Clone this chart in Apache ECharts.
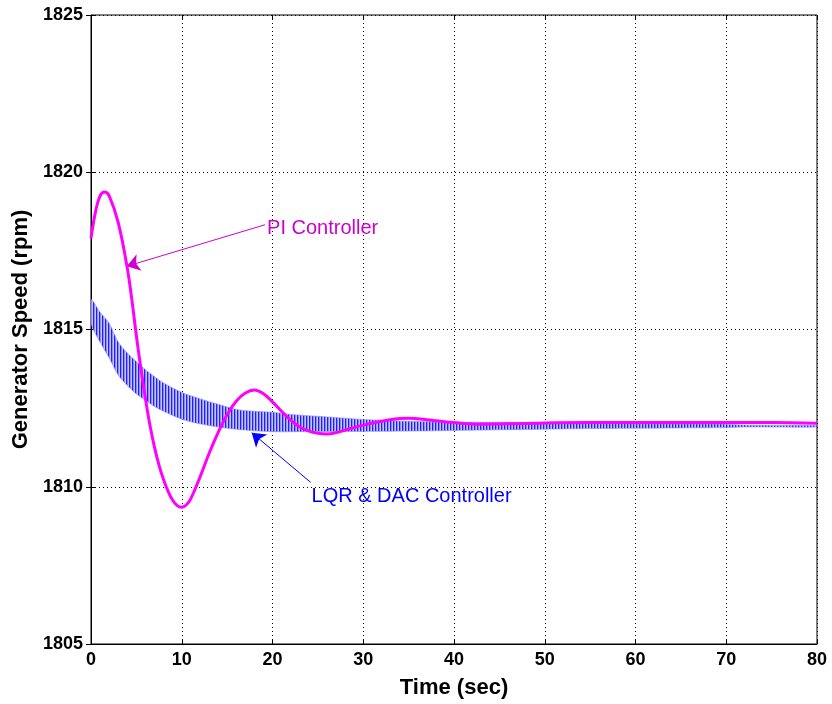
<!DOCTYPE html>
<html>
<head>
<meta charset="utf-8">
<title>Generator Speed</title>
<script src="https://cdn.jsdelivr.net/npm/echarts@6/dist/echarts.min.js"></script>
<style>
  html, body { margin: 0; padding: 0; background: #fff; }
  #chart { width: 832px; height: 704px; }
</style>
</head>
<body>
<div id="chart"></div>
<script>
// PI controller response (sec, rpm)
var piTime = [0, 0.5, 1, 1.5, 2, 3, 4, 4.5, 5, 5.5, 6, 6.5, 7, 7.5, 8, 8.5, 9, 9.5, 10, 10.5,
  11, 12, 13, 14, 15, 16, 17, 18, 19, 20, 21, 22, 23, 24, 25, 26, 27, 28, 30, 32,
  34, 35, 36, 38, 40, 43, 46, 50, 55, 60, 65, 70, 75, 80];
var piSpeed = [1817.9, 1818.75, 1819.25, 1819.37, 1819.25, 1818.4, 1816.95, 1815.95, 1814.8, 1813.75,
  1812.8, 1811.95, 1811.25, 1810.68, 1810.22, 1809.85, 1809.57, 1809.4, 1809.35, 1809.42,
  1809.62, 1810.3, 1811.05, 1811.72, 1812.3, 1812.72, 1812.98, 1813.08, 1812.96, 1812.7,
  1812.4, 1812.12, 1811.9, 1811.77, 1811.7, 1811.68, 1811.72, 1811.8, 1811.96, 1812.08,
  1812.17, 1812.18, 1812.16, 1812.1, 1812.04, 1811.99, 1812.0, 1812.03, 1812.04, 1812.04,
  1812.04, 1812.04, 1812.04, 1812.02];

// LQR & DAC controller: envelope of the fast oscillation (sec, rpm)
var lqrTime = [0, 1, 2, 3, 4, 5, 6, 7, 8, 10, 12, 14, 16, 18, 20, 22, 25, 28, 30, 35,
  40, 45, 50, 55, 60, 65, 70, 72, 75, 80];
var lqrUpper = [1815.95, 1815.55, 1815.2, 1814.6, 1814.25, 1813.98, 1813.72, 1813.5, 1813.3, 1813.0,
  1812.8, 1812.62, 1812.46, 1812.4, 1812.37, 1812.3, 1812.24, 1812.18, 1812.14, 1812.08,
  1812.05, 1812.05, 1812.04, 1812.02, 1812.0, 1812.0, 1811.99, 1811.96, 1811.95, 1811.95];
var lqrLower = [1815.2, 1814.6, 1814.1, 1813.55, 1813.22, 1812.95, 1812.75, 1812.55, 1812.4, 1812.15,
  1812.0, 1811.9, 1811.83, 1811.78, 1811.75, 1811.75, 1811.76, 1811.76, 1811.76, 1811.77,
  1811.79, 1811.81, 1811.83, 1811.85, 1811.86, 1811.87, 1811.88, 1811.9, 1811.9, 1811.9];

// annotations: text position, arrow from -> to
var piLabelAt = [19.4, 1818.22];
var piArrow = [[19.17, 1818.33], [3.93, 1817.01]];
var lqrLabelAt = [24.3, 1809.7];
var lqrArrow = [[24.2, 1810.14], [17.71, 1811.72]];

var font = 'Liberation Sans, Arial, Helvetica, sans-serif';

// vertical hatch pattern for the oscillating band
var hatch = document.createElement('canvas');
hatch.width = 3;
hatch.height = 2;
var hctx = hatch.getContext('2d');
hctx.fillStyle = '#2020ff';
hctx.fillRect(0, 0, 1, 2);
hctx.fillStyle = '#8c8cff';
hctx.fillRect(1, 0, 1, 2);
hctx.fillStyle = '#c6c6ff';
hctx.fillRect(2, 0, 1, 2);

var chart = echarts.init(document.getElementById('chart'));

function bandItem(params, api) {
  if (params.dataIndex !== 0) return null;
  var pts = [];
  for (var i = 0; i < lqrTime.length; i++) pts.push(api.coord([lqrTime[i], lqrUpper[i]]));
  for (var j = lqrTime.length - 1; j >= 0; j--) pts.push(api.coord([lqrTime[j], lqrLower[j]]));
  return {
    type: 'polygon',
    shape: { points: pts, smooth: 0.3 },
    style: { fill: { image: hatch, repeat: 'repeat' }, stroke: '#8a8aff', lineWidth: 0.6 }
  };
}

var option = {
  animation: false,
  backgroundColor: '#fff',
  grid: {
    left: 91, right: 15, top: 15, bottom: 59,
    show: true, borderColor: '#000', borderWidth: 1
  },
  xAxis: [{
    type: 'value', min: 0, max: 80, interval: 10,
    name: 'Time (sec)', nameLocation: 'middle', nameGap: 33,
    nameTextStyle: { fontFamily: font, fontWeight: 'bold', fontSize: 22, color: '#000' },
    axisLine: { show: true, lineStyle: { color: '#000', width: 1 } },
    axisTick: { inside: true, length: 5, lineStyle: { color: '#000' } },
    axisLabel: { fontFamily: font, fontWeight: 'bold', fontSize: 18, color: '#000', margin: 7 },
    splitLine: { show: true, lineStyle: { color: '#000', type: [1, 3], width: 1 } }
  }, {
    type: 'value', position: 'top', min: 0, max: 80, interval: 10,
    axisLine: { show: false },
    axisTick: { inside: true, length: 5, lineStyle: { color: '#000' } },
    axisLabel: { show: false },
    splitLine: { show: false }
  }],
  yAxis: [{
    type: 'value', min: 1805, max: 1825, interval: 5,
    name: 'Generator Speed (rpm)', nameLocation: 'middle', nameGap: 47,
    nameTextStyle: { fontFamily: font, fontWeight: 'bold', fontSize: 22, color: '#000' },
    axisLine: { show: true, lineStyle: { color: '#000', width: 1 } },
    axisTick: { inside: true, length: 5, lineStyle: { color: '#000' } },
    axisLabel: {
      fontFamily: font, fontWeight: 'bold', fontSize: 18, color: '#000', margin: 8,
      formatter: function (v) { return String(v); }
    },
    splitLine: { show: true, lineStyle: { color: '#000', type: [1, 3], width: 1 } }
  }, {
    type: 'value', position: 'right', min: 1805, max: 1825, interval: 5,
    axisLine: { show: false },
    axisTick: { inside: true, length: 5, lineStyle: { color: '#000' } },
    axisLabel: { show: false },
    splitLine: { show: false }
  }],
  series: [
    {
      name: 'LQR & DAC Controller',
      type: 'custom',
      z: 2,
      clip: true,
      renderItem: bandItem,
      data: lqrTime.map(function (t, i) { return [t, lqrLower[i], lqrUpper[i]]; })
    },
    {
      name: 'PI Controller',
      type: 'line',
      smooth: 0.4,
      symbol: 'none',
      z: 5,
      lineStyle: { color: '#ff00ff', width: 3 },
      data: piTime.map(function (t, i) { return [t, piSpeed[i]]; }),
      markLine: {
        silent: true,
        symbol: ['none', 'arrow'],
        symbolSize: 13,
        label: { show: false },
        data: [
          [{ coord: piArrow[0], lineStyle: { color: '#d000d0', width: 1, type: 'solid' } }, { coord: piArrow[1] }],
          [{ coord: lqrArrow[0], lineStyle: { color: '#0000ff', width: 1, type: 'solid' } }, { coord: lqrArrow[1] }]
        ]
      },
      markPoint: {
        silent: true,
        symbol: 'circle',
        symbolSize: 0,
        label: {
          show: true, position: 'right', distance: 0,
          fontFamily: font, fontSize: 20,
          formatter: function (p) { return p.name; }
        },
        data: [
          { name: 'PI Controller', coord: piLabelAt, label: { color: '#cc00cc' } },
          { name: 'LQR & DAC Controller', coord: lqrLabelAt, label: { color: '#0000ff' } }
        ]
      }
    }
  ]
};

chart.setOption(option);
</script>
</body>
</html>
